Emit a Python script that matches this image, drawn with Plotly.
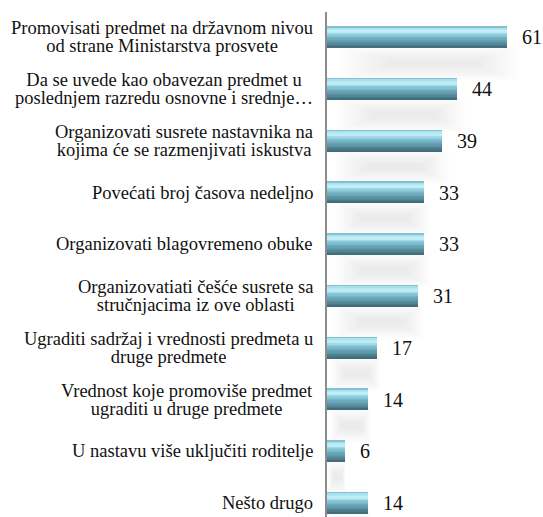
import plotly.graph_objects as go

categories = [
    "Promovisati predmet na državnom nivou<br>od strane Ministarstva prosvete",
    "Da se uvede kao obavezan predmet u<br>poslednjem razredu osnovne i srednje…",
    "Organizovati susrete nastavnika na<br>kojima će se razmenjivati iskustva",
    "Povećati broj časova nedeljno",
    "Organizovati blagovremeno obuke",
    "Organizovatiati češće susrete sa<br>stručnjacima iz ove oblasti",
    "Ugraditi sadržaj i vrednosti predmeta u<br>druge predmete",
    "Vrednost koje promoviše predmet<br>ugraditi u druge predmete",
    "U nastavu više uključiti roditelje",
    "Nešto drugo",
]
values = [61, 44, 39, 33, 33, 31, 17, 14, 6, 14]

FONT = "Liberation Serif, Times New Roman, serif"
BAR_W = 0.41

# key colours of the glossy bar, top -> bottom (fraction, rgb)
keys = [
    (0.00, (110, 176, 194)),
    (0.08, (165, 222, 236)),
    (0.25, (200, 243, 250)),
    (0.40, (140, 205, 222)),
    (0.60, (108, 170, 188)),
    (0.80, (88, 142, 158)),
    (1.00, (62, 104, 118)),
]


def colour_at(t):
    for (a, ca), (b, cb) in zip(keys[:-1], keys[1:]):
        if a <= t <= b:
            f = (t - a) / (b - a)
            c = [round(ca[i] + (cb[i] - ca[i]) * f) for i in range(3)]
            return "rgb(%d,%d,%d)" % tuple(c)
    return "rgb(%d,%d,%d)" % keys[-1][1]


N_BANDS = 16
N_SHADOW = 10
pos = list(range(len(categories)))
fig = go.Figure()

# soft diffuse shadow in the gap below each bar
for k in range(N_SHADOW):
    f = k / N_SHADOW
    w = 0.66 - 0.6 * f
    fig.add_trace(go.Bar(
        y=pos, x=[v * (0.98 - 0.55 * f) for v in values], orientation="h",
        base=[v * (0.08 + 0.3 * f) for v in values],
        offset=0.5 - w / 2, width=w,
        marker=dict(color="rgba(0,0,0,0.009)", line=dict(width=0)),
        hoverinfo="skip", showlegend=False,
    ))

for i in range(N_BANDS):
    t0 = i / N_BANDS
    t1 = (i + 1) / N_BANDS
    fig.add_trace(go.Bar(
        y=pos, x=values, orientation="h", base=0,
        offset=-BAR_W / 2 + t0 * BAR_W, width=(t1 - t0) * BAR_W * 1.02,
        marker=dict(color=colour_at((t0 + t1) / 2), line=dict(width=0)),
        hoverinfo="skip", showlegend=False,
    ))

SPAN = '<span style="font-size:18.5px">'
annotations = []
for p, c, v in zip(pos, categories, values):
    # small base font keeps line spacing tight; inner span sets glyph size
    annotations.append(dict(
        x=0, xref="paper", y=p, yref="y",
        text=SPAN + c.replace("<br>", "</span><br>" + SPAN) + "</span>",
        showarrow=False,
        xanchor="right", yanchor="middle", align="center", xshift=-12,
        font=dict(family=FONT, size=14.2, color="#111111"),
    ))
    annotations.append(dict(
        x=v, xref="x", y=p, yref="y", text=str(v), showarrow=False,
        xanchor="left", yanchor="middle", xshift=13,
        font=dict(family=FONT, size=20, color="#111111"),
    ))

fig.update_layout(
    width=543, height=517,
    margin=dict(l=327, r=0, t=12, b=0),
    paper_bgcolor="white", plot_bgcolor="white",
    barmode="overlay", bargap=0,
    xaxis=dict(visible=False, range=[0, 73.2]),
    yaxis=dict(range=[9.27, -0.49], showticklabels=False, showgrid=False,
               zeroline=False, showline=True, linecolor="#8c8c8c", linewidth=2,
               ticks=""),
    annotations=annotations,
    showlegend=False,
)

fig.write_html(
    "out.html",
    config={"displayModeBar": False},
    post_script="document.body.style.margin='0';"
                "document.body.style.overflow='hidden';",
)
